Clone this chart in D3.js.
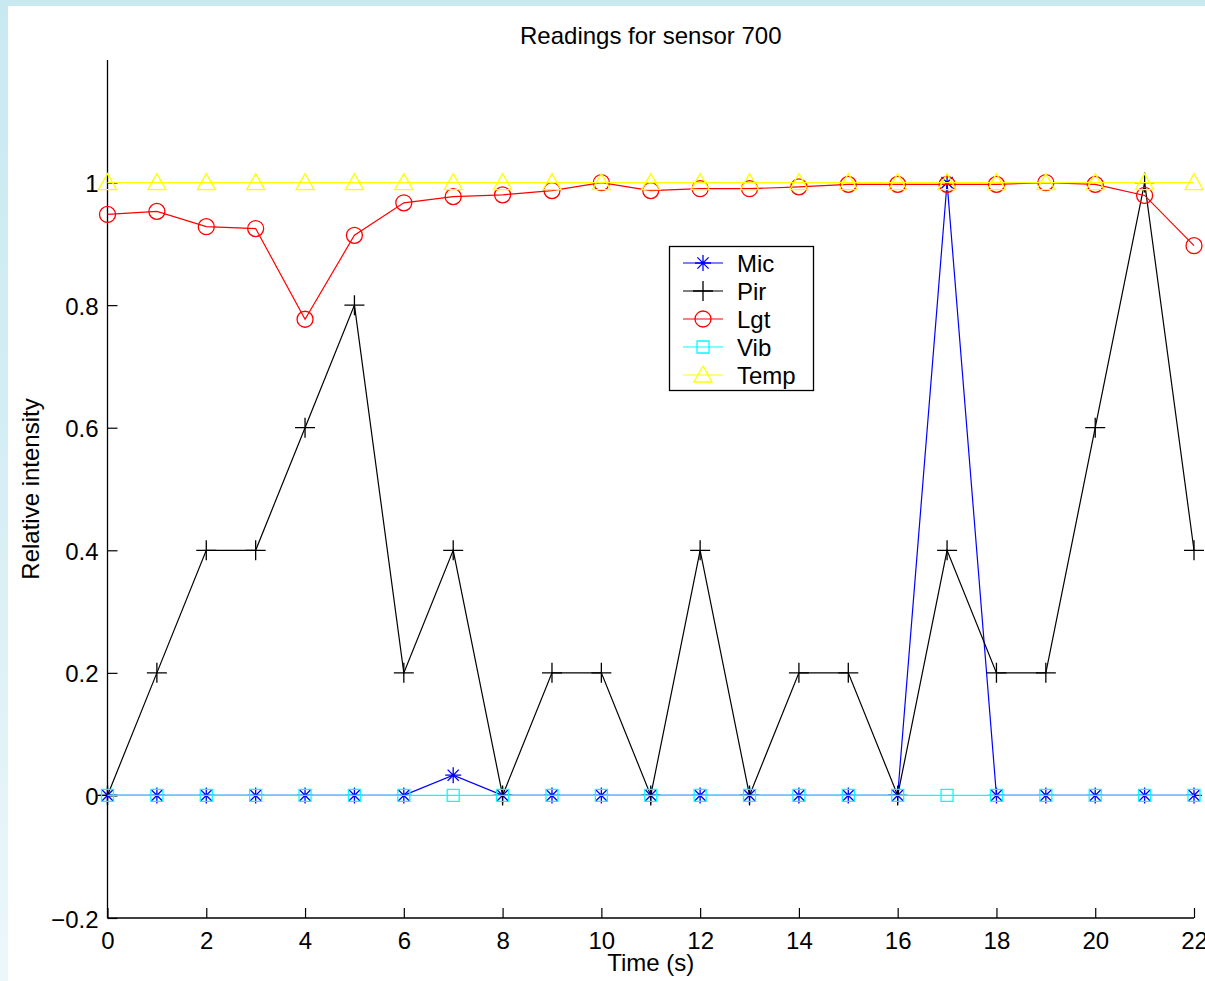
<!DOCTYPE html>
<html>
<head>
<meta charset="utf-8">
<script src="https://cdn.jsdelivr.net/npm/d3@7"></script>
<style>
  html, body { margin: 0; padding: 0; }
  body { width: 1205px; height: 981px; overflow: hidden;
         background: linear-gradient(to bottom, #c9e9f1 0%, #d6eef4 50%, #ecf7fa 100%); }
  svg { position: absolute; left: 8px; top: 6px; background: #fff; }
  text { font-family: "Liberation Sans", Arial, sans-serif; fill: #000; }
</style>
</head>
<body>
<script>
const times = d3.range(0, 23);
const mic  = [0,0,0,0,0,0,0,0.033,0,0,0,0,0,0,0,0,0,1.0,0,0,0,0,0];
const pir  = [0,0.2,0.4,0.4,0.6,0.8,0.2,0.4,0,0.2,0.2,0,0.4,0,0.2,0.2,0,0.4,0.2,0.2,0.6,1.0,0.4];
const lgt  = [0.948,0.953,0.928,0.925,0.777,0.914,0.967,0.977,0.980,0.987,1.0,0.987,0.990,0.990,0.993,0.997,0.997,0.997,0.997,1.0,0.997,0.979,0.897];
const vib  = [0,0,0,0,0,0,0,0,0,0,0,0,0,0,0,0,0,0,0,0,0,0,0];
const temp = [1,1,1,1,1,1,1,1,1,1,1,1,1,1,1,1,1,1,1,1,1,1,1];
const xTicks = d3.range(0, 23, 2);
const yTicks = [-0.2, 0, 0.2, 0.4, 0.6, 0.8, 1];
const seriesNames = ["Mic", "Pir", "Lgt", "Vib", "Temp"];
const seriesColors = ["#0000ff", "#000000", "#ff0000", "#00ffff", "#ffff00"];
const seriesMarkers = ["star", "plus", "circle", "square", "triangle"];
const seriesData = [mic, pir, lgt, vib, temp];

const OX = 8, OY = 6;
const W = 1205 - OX, H = 981 - OY;
const FS = 24;
const svg = d3.select("body").append("svg").attr("width", W).attr("height", H);

const x = d3.scaleLinear().domain([0, 22]).range([107.5 - OX, 1194 - OX]);
const y = d3.scaleLinear().domain([-0.2, 1.2]).range([918 - OY, 60 - OY]);

// title
svg.append("text").attr("x", (x(0) + x(22)) / 2).attr("y", 44 - OY)
  .attr("text-anchor", "middle").attr("font-size", FS).text("Readings for sensor 700");

// axes
const xAxis = d3.axisBottom(x).tickValues(xTicks).tickSize(-10).tickPadding(14).tickFormat(d3.format("d"));
const gx = svg.append("g").attr("transform", `translate(0,${y(-0.2)})`).call(xAxis);
gx.select(".domain").attr("d", `M${x(0)},0H${x(22)}`).attr("stroke", "#000").attr("stroke-width", 1.3);
gx.selectAll(".tick line").attr("stroke", "#000").attr("stroke-width", 1.2);
gx.selectAll(".tick text").attr("font-size", FS).attr("font-family", "Liberation Sans, Arial, sans-serif").attr("fill", "#000");

const yAxis = d3.axisLeft(y).tickValues(yTicks).tickSize(-10).tickPadding(9)
  .tickFormat(d => d === 0 ? "0" : d === 1 ? "1" : (d < 0 ? "\u2212" : "") + d3.format(".1f")(Math.abs(d)));
const gy = svg.append("g").attr("transform", `translate(${x(0)},0)`).call(yAxis);
gy.select(".domain").attr("d", `M0,${y(1.2)}V${y(-0.2)}`).attr("stroke", "#000").attr("stroke-width", 1.3);
gy.selectAll(".tick line").attr("stroke", "#000").attr("stroke-width", 1.2);
gy.selectAll(".tick text").attr("font-size", FS).attr("font-family", "Liberation Sans, Arial, sans-serif")
  .attr("fill", "#000").attr("dy", "0.38em");

// axis labels
svg.append("text").attr("x", (x(0) + x(22)) / 2).attr("y", 971 - OY)
  .attr("text-anchor", "middle").attr("font-size", FS).text("Time (s)");
svg.append("text").attr("transform", `translate(${39 - OX},${489 - OY}) rotate(-90)`)
  .attr("text-anchor", "middle").attr("font-size", FS).text("Relative intensity");

function markerPath(type) {
  switch (type) {
    case "star": { const r = 8, d = r * 0.7;
      return `M${-r},0H${r}M0,${-r}V${r}M${-d},${-d}L${d},${d}M${-d},${d}L${d},${-d}`; }
    case "plus": { const r = 10; return `M${-r},0H${r}M0,${-r}V${r}`; }
    case "circle": { const r = 8; return `M${r},0A${r},${r} 0 1,1 ${-r},0A${r},${r} 0 1,1 ${r},0Z`; }
    case "square": { const r = 6; return `M${-r},${-r}H${r}V${r}H${-r}Z`; }
    case "triangle": { return `M0,-9L9,7H-9Z`; }
  }
}

const line = d3.line().x((d, i) => x(times[i])).y(d => y(d));
const plot = svg.append("g");
seriesData.forEach((data, k) => {
  const g = plot.append("g");
  g.append("path").attr("d", line(data)).attr("fill", "none")
    .attr("stroke", seriesColors[k]).attr("stroke-width", 1.2);
  g.selectAll("path.m").data(data).enter().append("path").attr("class", "m")
    .attr("transform", (d, i) => `translate(${x(times[i])},${y(d)})`)
    .attr("d", markerPath(seriesMarkers[k]))
    .attr("fill", "none").attr("stroke", seriesColors[k]).attr("stroke-width", 1.3);
});

// legend
const lg = svg.append("g").attr("transform", `translate(${669 - OX},${246 - OY})`);
lg.append("rect").attr("x", 0.5).attr("y", 0.5).attr("width", 144).attr("height", 144)
  .attr("fill", "#fff").attr("stroke", "#000").attr("stroke-width", 1.3);
seriesNames.forEach((name, k) => {
  const yy = 17 + k * 28;
  lg.append("line").attr("x1", 14).attr("x2", 54).attr("y1", yy).attr("y2", yy)
    .attr("stroke", seriesColors[k]).attr("stroke-width", 1.2);
  lg.append("path").attr("transform", `translate(34,${yy})`).attr("d", markerPath(seriesMarkers[k]))
    .attr("fill", "none").attr("stroke", seriesColors[k]).attr("stroke-width", 1.3);
  lg.append("text").attr("x", 68).attr("y", yy + 9).attr("font-size", FS).text(name);
});
</script>
</body>
</html>
